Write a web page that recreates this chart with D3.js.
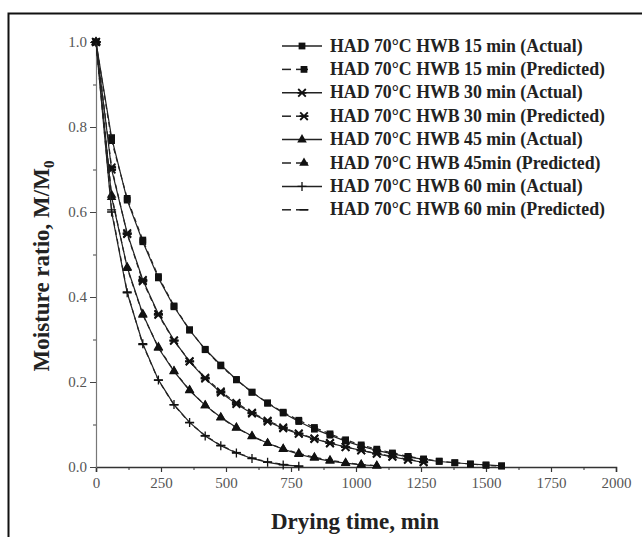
<!DOCTYPE html>
<html>
<head>
<meta charset="utf-8">
<script src="https://cdn.jsdelivr.net/npm/d3@7"></script>
<style>
  body { margin: 0; background: #fff; }
  text { font-family: "Liberation Serif", "Times New Roman", serif; }
</style>
</head>
<body>
<div id="canvas"></div>
<script>
// drying time (min) for each series
var t15 = [0,60,120,180,240,300,360,420,480,540,600,660,720,780,840,900,960,1020,1080,1140,1200,1260,1320,1380,1440,1500,1560];
var t30 = [0,60,120,180,240,300,360,420,480,540,600,660,720,780,840,900,960,1020,1080,1140,1200,1260];
var t45 = [0,60,120,180,240,300,360,420,480,540,600,660,720,780,840,900,960,1020,1080];
var t60 = [0,60,120,180,240,300,360,420,480,540,600,660,720,780];

// moisture ratio M/M0
var act15 = [1.0,0.775,0.628,0.53,0.445,0.377,0.322,0.277,0.240,0.206,0.176,0.150,0.127,0.107,0.089,0.075,0.061,0.049,0.039,0.031,0.024,0.018,0.013,0.010,0.007,0.005,0.003];
var pred15 = [1.0,0.768,0.632,0.534,0.448,0.379,0.323,0.276,0.238,0.205,0.176,0.151,0.129,0.110,0.093,0.078,0.064,0.052,0.042,0.033,0.025,0.019,0.014,0.010,0.007,0.004,0.002];
var act30 = [1.0,0.70,0.55,0.44,0.36,0.298,0.248,0.208,0.175,0.148,0.126,0.107,0.091,0.078,0.066,0.056,0.047,0.039,0.031,0.024,0.017,0.011];
var pred30 = [1.0,0.705,0.548,0.437,0.358,0.297,0.249,0.210,0.178,0.151,0.128,0.109,0.093,0.079,0.067,0.056,0.047,0.039,0.032,0.025,0.018,0.012];
var act45 = [1.0,0.635,0.47,0.36,0.28,0.225,0.180,0.145,0.117,0.093,0.073,0.056,0.042,0.030,0.021,0.014,0.009,0.005,0.003];
var pred45 = [1.0,0.64,0.468,0.358,0.282,0.226,0.181,0.145,0.116,0.092,0.072,0.056,0.043,0.032,0.023,0.016,0.010,0.006,0.003];
var act60 = [1.0,0.60,0.41,0.29,0.205,0.147,0.105,0.073,0.050,0.033,0.020,0.011,0.005,0.002];
var pred60 = [1.0,0.605,0.412,0.288,0.204,0.146,0.104,0.074,0.051,0.034,0.021,0.012,0.006,0.002];

var labels = ["HAD 70°C HWB 15 min (Actual)", "HAD 70°C HWB 15 min (Predicted)",
  "HAD 70°C HWB 30 min (Actual)", "HAD 70°C HWB 30 min (Predicted)",
  "HAD 70°C HWB 45 min (Actual)", "HAD 70°C HWB 45min (Predicted)",
  "HAD 70°C HWB 60 min (Actual)", "HAD 70°C HWB 60 min (Predicted)"];
var xTicks = [0,250,500,750,1000,1250,1500,1750,2000];
var yTicks = [0.0,0.2,0.4,0.6,0.8,1.0];

var series = [
  {t: t15, v: act15, mark: "square", dash: null},
  {t: t15, v: pred15, mark: "square", dash: "5,4"},
  {t: t30, v: act30, mark: "star", dash: null},
  {t: t30, v: pred30, mark: "star", dash: "5,4"},
  {t: t45, v: act45, mark: "triangle", dash: null},
  {t: t45, v: pred45, mark: "triangle", dash: "5,4"},
  {t: t60, v: act60, mark: "plus", dash: null},
  {t: t60, v: pred60, mark: "minus", dash: "5,4"}
];

var width = 642, height = 537;
var svg = d3.select("#canvas").append("svg")
  .attr("width", width)
  .attr("height", height);

// outer frame (cut by the image edge)
svg.append("rect")
  .attr("x", 8.5).attr("y", 13.5)
  .attr("width", 660).attr("height", 560)
  .attr("fill", "none")
  .attr("stroke", "#111")
  .attr("stroke-width", 2);

var x = d3.scaleLinear().domain([0, 2000]).range([96, 616]);
var y = d3.scaleLinear().domain([0, 1]).range([467, 42]);

// x axis
var xAxis = d3.axisBottom(x).tickValues(xTicks).tickSize(5).tickPadding(5).tickFormat(d3.format("d"));
var gx = svg.append("g")
  .attr("transform", "translate(0," + y(0) + ")")
  .call(xAxis);
gx.select(".domain").attr("stroke", "#333").attr("stroke-width", 1.5);
gx.selectAll(".tick line").attr("stroke", "#333").attr("stroke-width", 1.2);
gx.selectAll("text").attr("font-size", "15px").attr("fill", "#555");
svg.append("g")
  .attr("transform", "translate(0," + y(0) + ")")
  .call(d3.axisBottom(x).tickValues(d3.range(125, 2000, 250)).tickSize(3).tickFormat(""))
  .call((g) => g.select(".domain").remove())
  .selectAll("line").attr("stroke", "#333");

// y axis
var yAxis = d3.axisLeft(y).tickValues(yTicks).tickSize(6).tickPadding(3).tickFormat(d3.format(".1f"));
var gy = svg.append("g")
  .attr("transform", "translate(" + x(0) + ",0)")
  .call(yAxis);
gy.select(".domain").attr("stroke", "#777").attr("stroke-width", 1.2);
gy.selectAll(".tick line").attr("stroke", "#444");
gy.selectAll("text").attr("font-size", "15px").attr("fill", "#555");
svg.append("g")
  .attr("transform", "translate(" + x(0) + ",0)")
  .call(d3.axisLeft(y).tickValues([0.1,0.3,0.5,0.7,0.9]).tickSize(3).tickFormat(""))
  .call((g) => g.select(".domain").remove())
  .selectAll("line").attr("stroke", "#444");

// axis titles
svg.append("text")
  .attr("x", 355).attr("y", 529)
  .attr("text-anchor", "middle")
  .attr("font-size", "23px")
  .attr("font-weight", "bold")
  .attr("fill", "#222")
  .text("Drying time, min");

var yt = svg.append("text")
  .attr("transform", "translate(49,266) rotate(-90)")
  .attr("text-anchor", "middle")
  .attr("font-size", "23px")
  .attr("font-weight", "bold")
  .attr("fill", "#222");
yt.append("tspan").text("Moisture ratio, M/M");
yt.append("tspan").attr("font-size", "15px").attr("dy", 5).text("0");

// marker drawing
function marker(sel, kind) {
  if (kind === "square") {
    sel.append("path").attr("d", d3.symbol(d3.symbolSquare, 46)()).attr("fill", "#111");
  } else if (kind === "triangle") {
    sel.append("path").attr("d", d3.symbol(d3.symbolTriangle, 40)()).attr("fill", "#111");
  } else if (kind === "star") {
    sel.append("path").attr("d", "M-3.8,-3.8L3.8,3.8M-3.8,3.8L3.8,-3.8M-4.5,0H4.5")
      .attr("stroke", "#111").attr("stroke-width", 1.8).attr("fill", "none");
  } else if (kind === "plus") {
    sel.append("path").attr("d", "M-4.5,0H4.5M0,-4.5V4.5")
      .attr("stroke", "#111").attr("stroke-width", 1.3).attr("fill", "none");
  } else if (kind === "minus") {
    sel.append("path").attr("d", "M-4.5,0H4.5")
      .attr("stroke", "#111").attr("stroke-width", 1.3).attr("fill", "none");
  }
}

var line = d3.line()
  .x((d) => x(d[0]))
  .y((d) => y(d[1]));

series.forEach((s) => {
  var pts = s.t.map((t, i) => [t, s.v[i]]);
  svg.append("path")
    .datum(pts)
    .attr("d", line)
    .attr("fill", "none")
    .attr("stroke", "#222")
    .attr("stroke-width", 1.2)
    .attr("stroke-dasharray", s.dash);
  svg.append("g").selectAll("g")
    .data(pts)
    .enter().append("g")
    .attr("transform", (d) => "translate(" + x(d[0]) + "," + y(d[1]) + ")")
    .each(function() { marker(d3.select(this), s.mark); });
});

// legend
var lg = svg.append("g").attr("transform", "translate(282,46)");
labels.forEach((lab, i) => {
  var row = lg.append("g").attr("transform", "translate(0," + (i * 23.4) + ")");
  var dashed = series[i].dash !== null;
  if (dashed) {
    row.append("line").attr("x1", 0).attr("x2", 9).attr("stroke", "#222").attr("stroke-width", 1.5);
    row.append("line").attr("x1", 14).attr("x2", 26).attr("stroke", "#222").attr("stroke-width", 1.5);
  } else {
    row.append("line").attr("x1", 0).attr("x2", 40).attr("stroke", "#222").attr("stroke-width", 1.5);
  }
  var m = row.append("g").attr("transform", "translate(" + (dashed ? 22 : 20) + ",0)");
  marker(m, series[i].mark);
  row.append("text")
    .attr("x", 48).attr("y", 5.5)
    .attr("font-size", "17.8px")
    .attr("font-weight", "bold")
    .attr("fill", "#222")
    .text(lab);
});
</script>
</body>
</html>
